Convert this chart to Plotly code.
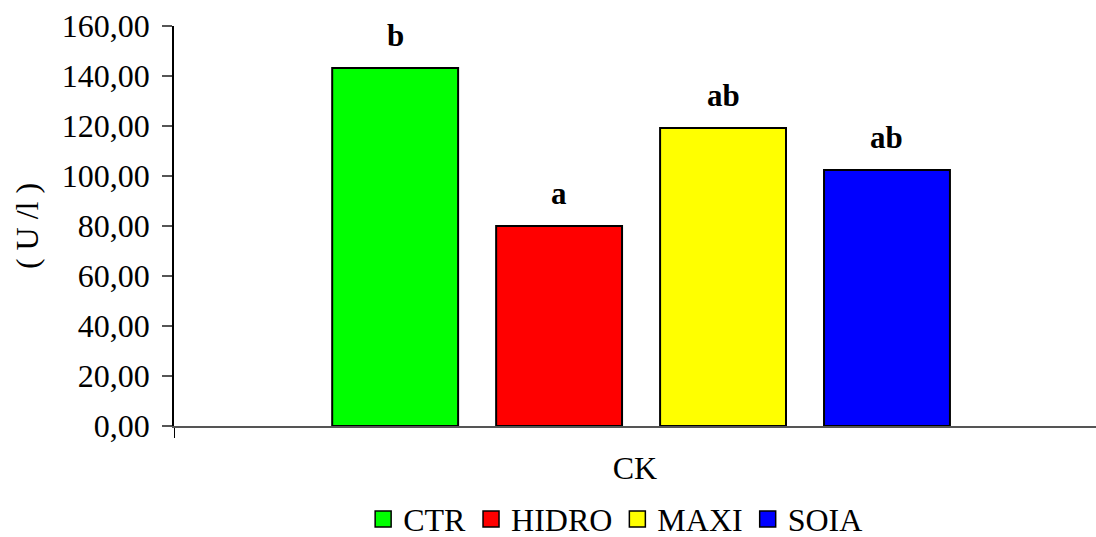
import plotly.graph_objects as go

categories = ["CK"]
series = ["CTR", "HIDRO", "MAXI", "SOIA"]
values = [143.2, 80.0, 119.2, 102.4]
letters = ["b", "a", "ab", "ab"]
colors = ["#00FF00", "#FF0000", "#FFFF00", "#0000FF"]
y_ticks = [0, 20, 40, 60, 80, 100, 120, 140, 160]

FONT = "Liberation Serif"
BARGAP = 0.298
BARGROUPGAP = 0.232

fig = go.Figure()
for name, v, c in zip(series, values, colors):
    fig.add_trace(go.Bar(
        x=categories, y=[v], name=name, showlegend=False,
        marker=dict(color=c, line=dict(color="black", width=2)),
    ))
# legend entries with larger square symbols
for name, c in zip(series, colors):
    fig.add_trace(go.Scatter(
        x=[None], y=[None], mode="markers", name=name,
        marker=dict(symbol="square", size=18, color=c,
                    line=dict(color="black", width=1.5)),
    ))

n = len(series)
slot = (1 - BARGAP) / n
for i, (v, t) in enumerate(zip(values, letters)):
    fig.add_annotation(
        x=(i - (n - 1) / 2) * slot, y=v, xref="x", yref="y",
        text=f"<b>{t}</b>", showarrow=False, yanchor="bottom", yshift=13,
        font=dict(family=FONT, size=31, color="black"),
    )

fig.update_layout(
    width=1096, height=537,
    margin=dict(l=174, r=0, t=26, b=111, autoexpand=False),
    paper_bgcolor="white", plot_bgcolor="white",
    barmode="group", bargap=BARGAP, bargroupgap=BARGROUPGAP,
    separators=",.",
    font=dict(family=FONT, size=32, color="black"),
    showlegend=True,
    legend=dict(orientation="h", x=0.479, xanchor="center", y=-0.233,
                yanchor="middle", font=dict(family=FONT, size=32),
                itemwidth=30, itemclick=False, bgcolor="rgba(0,0,0,0)"),
)
fig.update_xaxes(
    type="category", range=[-0.5, 0.487], automargin=False,
    showline=True, linecolor="#555555", linewidth=2,
    ticks="outside", tickson="boundaries", ticklen=10, tickcolor="black",
    showticklabels=False, showgrid=False, zeroline=False,
    title=dict(text="CK", standoff=30, font=dict(family=FONT, size=32)),
)
fig.update_yaxes(
    range=[0, 160], tickvals=y_ticks, tickformat=".2f", automargin=False,
    showline=True, linecolor="black", linewidth=1.5,
    ticks="outside", ticklen=10, tickcolor="#555555", tickwidth=1.5,
    ticklabelstandoff=6,
    showgrid=False, zeroline=False,
    tickfont=dict(family=FONT, size=32),
    title=dict(text="( U /l )", standoff=14, font=dict(family=FONT, size=32)),
)

fig.write_html("out.html")
